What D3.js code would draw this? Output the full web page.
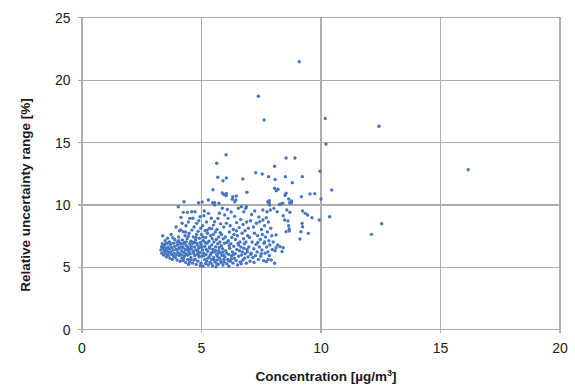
<!DOCTYPE html>
<html>
<head>
	<meta charset="utf-8">
	<title>Relative uncertainty vs concentration</title>
	<script src="https://d3js.org/d3.v7.min.js"></script>
	<style>
		body { margin: 0; background: #fff; }
		.grid line, .grid path { stroke: #adadad; stroke-width: 1.3px; shape-rendering: crispEdges; }
		.axis path { display: none; }
		.axis line { stroke: #adadad; stroke-width: 1.3px; shape-rendering: crispEdges; }
		.axis text { font-family: "Liberation Sans", Arial, sans-serif; font-size: 14px; fill: #222; }
		.title { font-family: "Liberation Sans", Arial, sans-serif; font-size: 13.5px; font-weight: bold; fill: #1a1a1a; }
		.dot { fill: #4677c0; }
	</style>
</head>
<body>
<svg id="chart"></svg>
<script>
// tick labels
var xTicks = [0, 5, 10, 15, 20];
var yTicks = [0, 5, 10, 15, 20, 25];

// [concentration, relative uncertainty], grouped by x band
var band3to4 = [[3.32,6.35],[3.35,6.62],[3.36,6.1],[3.38,6.85],[3.4,7.5],[3.41,6.45],[3.43,5.95],[3.45,6.7],[3.47,6.25],[3.49,6.81],
	[3.5,7.1],[3.52,6.05],[3.54,6.5],[3.55,5.8],[3.57,6.9],[3.58,6.3],[3.6,7.3],[3.62,6.6],[3.63,5.9],[3.65,6.15],
	[3.67,7.0],[3.68,6.45],[3.7,5.7],[3.72,6.8],[3.73,6.2],[3.75,7.6],[3.77,6.0],[3.78,6.55],[3.8,5.6],[3.82,7.34],
	[3.83,6.35],[3.85,6.9],[3.86,5.85],[3.88,6.1],[3.9,7.2],[3.91,6.65],[3.93,5.75],[3.95,6.4],[3.96,8.2],[3.98,6.0],
	[3.99,7.0],[3.7,6.95],[3.6,5.95],[3.5,6.4],[3.44,6.55]];
var band4to5 = [[4.0,5.55],[4.02,6.75],[4.03,6.2],[4.05,9.82],[4.06,7.4],[4.08,5.9],[4.09,6.5],[4.1,7.9],[4.12,6.05],[4.13,5.45],
	[4.15,7.96],[4.16,8.97],[4.17,6.85],[4.19,6.3],[4.2,5.7],[4.22,7.15],[4.23,6.6],[4.25,5.5],[4.26,7.82],[4.26,9.37],
	[4.28,6.15],[4.29,10.22],[4.3,6.95],[4.31,5.85],[4.33,7.5],[4.34,6.4],[4.36,5.35],[4.37,8.3],[4.39,6.7],[4.4,6.0],
	[4.42,7.25],[4.43,9.37],[4.44,5.6],[4.46,6.55],[4.47,8.6],[4.49,6.2],[4.5,7.7],[4.52,5.4],[4.53,6.85],[4.54,8.89],
	[4.55,6.05],[4.57,7.05],[4.58,5.75],[4.6,6.45],[4.61,9.42],[4.62,7.95],[4.64,5.3],[4.65,6.9],[4.67,6.25],[4.68,7.4],
	[4.7,5.55],[4.71,8.2],[4.73,6.6],[4.74,5.9],[4.75,9.42],[4.77,7.15],[4.78,6.35],[4.8,5.2],[4.81,7.6],[4.82,8.49],
	[4.84,6.0],[4.85,6.75],[4.87,5.45],[4.88,7.85],[4.9,10.14],[4.9,6.5],[4.92,5.8],[4.93,7.3],[4.95,6.15],[4.96,9.02],
	[4.97,5.1],[4.98,6.95],[4.99,8.1],[4.05,6.45],[4.11,6.9],[4.18,5.95],[4.24,6.55],[4.32,6.1],[4.38,7.0],[4.45,5.95],
	[4.51,6.4],[4.56,5.55],[4.63,7.0],[4.69,6.1],[4.76,5.6],[4.83,6.9],[4.89,5.95],[4.94,6.6],[4.14,6.6],[4.27,5.65],
	[4.41,6.35],[4.59,6.65],[4.72,6.95],[4.86,6.25],[4.21,8.5],[4.35,7.8],[4.48,5.2],[4.66,8.9],[4.79,7.35],[4.91,8.7],
	[4.07,7.1],[4.29,6.85],[4.47,7.45]];
var band5to6 = [[5.0,5.3],[5.01,6.8],[5.02,7.6],[5.03,5.85],[5.05,10.2],[5.06,6.35],[5.07,8.3],[5.08,5.05],[5.1,7.1],[5.11,6.1],
	[5.12,9.1],[5.14,9.48],[5.15,5.6],[5.16,6.65],[5.17,7.9],[5.19,5.25],[5.2,7.35],[5.21,6.0],[5.23,8.6],[5.24,5.45],
	[5.25,6.9],[5.27,7.7],[5.28,6.25],[5.3,5.15],[5.31,9.29],[5.31,10.36],[5.33,7.05],[5.34,5.8],[5.36,8.1],[5.37,6.5],
	[5.38,5.35],[5.4,7.5],[5.41,6.05],[5.43,8.9],[5.44,5.6],[5.45,6.75],[5.47,7.25],[5.48,5.1],[5.49,10.14],[5.5,6.4],
	[5.52,8.35],[5.53,5.75],[5.54,7.0],[5.56,6.2],[5.57,9.96],[5.57,8.62],[5.58,5.4],[5.6,7.8],[5.61,6.6],[5.63,5.0],
	[5.64,7.2],[5.65,6.0],[5.67,8.0],[5.68,5.55],[5.7,6.85],[5.71,8.89],[5.72,5.2],[5.74,7.4],[5.75,6.3],[5.77,9.3],
	[5.78,5.7],[5.79,7.0],[5.81,6.1],[5.82,8.45],[5.84,5.35],[5.85,6.7],[5.86,7.6],[5.88,5.9],[5.89,9.7],[5.9,6.45],
	[5.92,5.15],[5.93,7.25],[5.95,8.2],[5.96,5.6],[5.98,6.9],[5.99,9.16],[5.04,6.55],[5.13,5.9],[5.22,6.4],[5.29,5.7],
	[5.35,6.6],[5.42,5.3],[5.46,6.15],[5.55,5.55],[5.62,6.3],[5.69,5.85],[5.76,6.55],[5.83,5.5],[5.91,6.2],[5.97,5.4],
	[5.09,7.4],[5.26,7.95],[5.39,5.95],[5.51,7.6],[5.66,5.25],[5.8,7.75],[5.94,5.95],[5.18,6.95],[5.45,8.05],[5.73,6.15],
	[5.57,10.14],[5.75,10.1]];
var band6to7 = [[6.0,5.8],[6.02,7.4],[6.03,6.3],[6.05,10.71],[6.06,8.49],[6.08,5.25],[6.09,6.95],[6.1,9.6],[6.12,5.6],[6.13,8.89],
	[6.14,7.1],[6.16,6.0],[6.17,5.05],[6.19,7.8],[6.2,6.5],[6.22,8.3],[6.23,5.45],[6.25,6.85],[6.26,9.4],[6.28,5.9],
	[6.29,7.35],[6.31,6.2],[6.33,10.63],[6.34,5.3],[6.35,8.0],[6.37,6.65],[6.38,7.6],[6.4,5.7],[6.41,9.05],[6.43,6.05],
	[6.44,7.2],[6.46,10.36],[6.47,5.5],[6.49,8.55],[6.5,6.4],[6.52,7.5],[6.53,5.15],[6.55,6.9],[6.56,9.7],[6.58,5.85],
	[6.6,8.15],[6.61,6.3],[6.63,7.0],[6.64,5.4],[6.66,8.8],[6.67,6.6],[6.69,9.82],[6.7,5.95],[6.72,7.7],[6.73,6.2],
	[6.75,5.55],[6.76,8.4],[6.78,7.25],[6.79,9.42],[6.8,6.5],[6.82,5.7],[6.84,7.9],[6.85,6.05],[6.87,9.69],[6.88,7.0],
	[6.9,5.3],[6.91,8.6],[6.93,6.4],[6.95,7.5],[6.97,5.8],[6.98,8.1],[6.07,6.1],[6.18,6.7],[6.27,5.65],[6.36,6.0],
	[6.48,7.9],[6.57,6.75],[6.68,5.25],[6.81,6.85],[6.94,6.2],[6.15,5.5],[6.41,10.22],[6.9,9.82]];
var band7to8 = [[7.0,6.6],[7.03,7.35],[7.05,5.45],[7.07,8.7],[7.1,6.1],[7.12,9.2],[7.14,7.0],[7.17,5.75],[7.19,8.2],[7.21,6.45],
	[7.24,7.7],[7.25,9.48],[7.28,5.9],[7.3,6.8],[7.32,8.5],[7.35,6.2],[7.37,7.5],[7.4,5.6],[7.42,9.0],[7.44,6.6],
	[7.46,8.62],[7.48,7.2],[7.5,5.85],[7.53,8.0],[7.55,6.35],[7.57,7.6],[7.59,9.56],[7.59,8.76],[7.62,5.5],[7.64,6.9],
	[7.66,8.3],[7.68,6.1],[7.7,7.4],[7.73,8.94],[7.73,5.42],[7.75,6.6],[7.76,9.42],[7.78,7.8],[7.8,6.2],[7.82,8.6],
	[7.84,7.1],[7.86,5.9],[7.88,6.75],[7.9,9.56],[7.92,8.1],[7.94,5.55],[7.96,7.5],[7.98,6.4],[7.08,6.0],[7.22,5.35],
	[7.38,6.95],[7.52,6.05],[7.66,7.0],[7.81,5.6],[7.86,10.3],[7.85,10.1],[7.87,9.96],[7.8,10.22]];
var band8up = [[8.02,7.0],[8.05,9.69],[8.08,5.29],[8.1,6.3],[8.14,7.56],[8.14,6.54],[8.19,9.42],[8.21,6.75],[8.22,11.22],[8.28,10.0],
	[8.31,6.62],[8.35,10.04],[8.39,6.22],[8.42,10.1],[8.44,9.1],[8.44,6.54],[8.5,8.76],[8.52,10.74],[8.56,10.9],[8.56,7.82],
	[8.59,9.56],[8.64,8.68],[8.67,8.3],[8.67,10.44],[8.69,8.04],[8.69,7.88],[8.71,10.14],[8.72,9.38],[8.78,10.12],[8.79,10.28],
	[9.14,7.24],[9.18,7.82],[9.2,10.63],[9.23,8.49],[9.25,8.22],[9.25,9.48],[9.36,9.29],[9.46,9.16],[9.49,7.69],[9.56,10.84],
	[9.64,8.94],[9.76,10.87],[9.95,8.76],[10.02,10.44],[10.38,9.02],[10.47,11.16],[12.13,7.61],[12.56,8.46]];
var highPoints = [[9.11,21.44],[7.40,18.67],[7.64,16.77],[10.20,16.9],[12.45,16.27],[10.23,14.85],[16.18,12.79],[6.05,13.99],
	[8.56,13.73],[8.93,13.73],[5.66,13.3],[8.08,13.06],[9.98,12.66],[5.7,12.18],[6.06,12.12],[5.92,11.9],[7.29,12.55],
	[7.56,12.44],[6.75,12.05],[7.83,12.23],[8.1,12.0],[8.53,12.23],[9.24,12.23],[8.82,11.75],[6.92,10.98],[5.5,11.18],
	[5.89,10.92],[5.96,10.8],[6.06,10.88],[6.31,10.42],[6.48,10.68],[8.15,11.1],[8.08,11.3]];

var points = [].concat(band3to4, band4to5, band5to6, band6to7, band7to8, band8up, highPoints);

var _width = 575, _height = 389,
	_left = 81.5, _right = 559.5, _top = 17.3, _bottom = 329.3,
	_x = d3.scaleLinear([0, 20], [_left, _right]),
	_y = d3.scaleLinear([0, 25], [_bottom, _top]);

var svg = d3.select('#chart')
	.attr('width', _width)
	.attr('height', _height);

svg.append('rect').attr('width', _width).attr('height', _height).attr('fill', '#fff');

// grid lines
svg.append('g')
	.attr('class', 'grid')
	.attr('transform', 'translate(0,' + _bottom + ')')
	.call(d3.axisBottom(_x).tickValues(xTicks).tickSize(-(_bottom - _top)).tickFormat(''));
svg.append('g')
	.attr('class', 'grid')
	.attr('transform', 'translate(' + _left + ',0)')
	.call(d3.axisLeft(_y).tickValues(yTicks).tickSize(-(_right - _left)).tickFormat(''));
svg.selectAll('.grid path').remove();

// axes with short outward ticks
var xAxis = svg.append('g')
	.attr('class', 'axis')
	.attr('transform', 'translate(0,' + _bottom + ')')
	.call(d3.axisBottom(_x).tickValues(xTicks).tickSize(4).tickSizeOuter(0));
xAxis.selectAll('text').attr('y', 24).attr('dy', 0);

var yAxis = svg.append('g')
	.attr('class', 'axis')
	.attr('transform', 'translate(' + _left + ',0)')
	.call(d3.axisLeft(_y).tickValues(yTicks).tickSize(4).tickSizeOuter(0));
yAxis.selectAll('text').attr('x', -11).attr('dy', '0.36em');

// points
svg.append('g')
	.selectAll('circle')
	.data(points)
	.enter()
	.append('circle')
		.attr('class', 'dot')
		.attr('cx', function(d){ return _x(d[0]); })
		.attr('cy', function(d){ return _y(d[1]); })
		.attr('r', 1.7);

// axis titles
var xt = svg.append('text')
	.attr('class', 'title')
	.attr('text-anchor', 'middle')
	.attr('x', 326)
	.attr('y', 381);
xt.append('tspan').text('Concentration [\u00b5g/m');
xt.append('tspan').attr('font-size', '9px').attr('dy', -5).text('3');
xt.append('tspan').attr('dy', 5).text(']');

svg.append('text')
	.attr('class', 'title')
	.attr('text-anchor', 'middle')
	.attr('transform', 'translate(30,195) rotate(-90)')
	.text('Relative uncertainty range [%]');
</script>
</body>
</html>
